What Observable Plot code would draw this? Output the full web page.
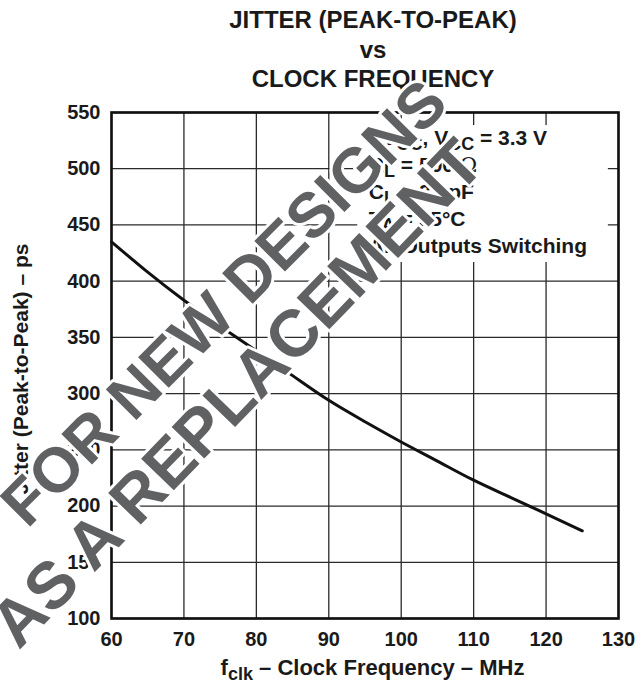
<!DOCTYPE html>
<html><head><meta charset="utf-8">
<script src="https://cdn.jsdelivr.net/npm/d3@7"></script>
<script src="https://cdn.jsdelivr.net/npm/@observablehq/plot@0.6"></script>
<style>
body{margin:0;background:#fff;font-family:"Liberation Sans",Arial,Helvetica,sans-serif;}
#title{height:100px;width:642px;box-sizing:border-box;padding-left:104px;padding-top:5px;text-align:center;font-weight:bold;font-size:24px;line-height:29.5px;color:#1a1a1a;}
#chart svg{display:block;}
</style></head><body>
<div id="title"><div>JITTER (PEAK-TO-PEAK)</div><div>vs</div><div>CLOCK FREQUENCY</div></div>
<div id="chart"></div>
<script>
// ---- data ----
const freqMHz  = [60, 65, 70, 75, 80, 85, 90, 95, 100, 105, 110, 115, 120, 125];
const jitterPs = [435, 408, 383, 360, 338, 316, 294, 275, 257, 240, 223, 208, 193, 178];
const xTicks = [60, 70, 80, 90, 100, 110, 120, 130];
const yTicks = [100, 150, 200, 250, 300, 350, 400, 450, 500, 550];
const legendLines = [
  [{t:"AV"},{t:"CC",sub:true},{t:", V"},{t:"CC",sub:true},{t:" = 3.3 V"}],
  [{t:"R"},{t:"L",sub:true},{t:" = 500 "},{t:"Ω",light:true}],
  [{t:"C"},{t:"L",sub:true},{t:" = 20 pF"}],
  [{t:"T"},{t:"A",sub:true},{t:" = 25°C"}],
  [{t:"All Outputs Switching"}]
];
const xLabel = [{t:"f"},{t:"clk",sub:true},{t:" – Clock Frequency – MHz"}];
const yLabel = "Jitter (Peak-to-Peak) – ps";
const watermark = ["FOR NEW DESIGNS", "AS A REPLACEMENT"];

// ---- layout ----
const wmPos = [{x:75.6, y:380.1, size:63, rot:-45}, {x:77.4, y:299.7, size:66, rot:-46}];
const legendBox = {x1:94.0, x2:128.6, y1:416.6, y2:538.4};
const legendAt = {x:95.6, y:520.7, step:27};

const data = freqMHz.map((f,i)=>({f, j: jitterPs[i]}));
const wm = watermark.map((t,i)=>({t, ...wmPos[i]}));

const plot = Plot.plot({
  width: 642, height: 583,
  marginTop: 12, marginRight: 24, marginBottom: 65, marginLeft: 111,
  style: {fontFamily: '"Liberation Sans", Arial, sans-serif', fontSize: "20px", fontWeight: "bold", color: "#1a1a1a", background: "#fff", overflow: "visible"},
  x: {domain: [60, 130]},
  y: {domain: [100, 550]},
  marks: [
    Plot.ruleX(xTicks, {stroke: "#2a2a2a", strokeWidth: 1.3}),
    Plot.ruleY(yTicks, {stroke: "#2a2a2a", strokeWidth: 1.3}),
    Plot.rect([legendBox], {x1:"x1", x2:"x2", y1:"y1", y2:"y2", fill:"#fff"}),
    Plot.frame({stroke: "#111", strokeWidth: 2.6}),
    Plot.line(data, {x:"f", y:"j", curve:"natural", stroke:"#111", strokeWidth: 3}),
    Plot.axisX(xTicks, {tickSize: 0, tickPadding: 13, label: null, fontSize: 20}),
    Plot.axisY(yTicks, {tickSize: 0, tickPadding: 11, label: null, fontSize: 20}),
    Plot.text(wm, {x:"x", y:"y", text:"t", rotate:"rot", fontSize:"size", fontWeight:"bold",
      fill:"#606163", stroke:"#fff", strokeWidth:6, paintOrder:"stroke", strokeLinejoin:"round", textAnchor:"middle"})
  ]
});
document.getElementById("chart").appendChild(plot);

const svg = d3.select(plot);
const lin = s => v => s.range[0] + (v - s.domain[0])/(s.domain[1]-s.domain[0])*(s.range[1]-s.range[0]);
const X = lin(plot.scale("x")), Y = lin(plot.scale("y"));

function addSegs(textSel, segs, subSize, shift){
  let down = false;
  segs.forEach(s => {
    const ts = textSel.append("tspan").text(s.t);
    if (s.sub) { ts.attr("font-size", subSize); if (!down) { ts.attr("dy", shift); down = true; } }
    else if (down) { ts.attr("dy", -shift); down = false; }
    if (s.light) ts.attr("font-weight", "normal").attr("font-family", '"DejaVu Serif", "Liberation Serif", serif');
  });
}

const lg = svg.append("g").attr("font-size", 21).attr("font-weight", "bold").attr("fill", "#1a1a1a").attr("text-anchor", "start");
legendLines.forEach((segs, i) => {
  const t = lg.append("text").attr("text-anchor", "start").attr("x", X(legendAt.x)).attr("y", Y(legendAt.y) + i*legendAt.step);
  addSegs(t, segs, 18, 5);
});

const xt = svg.append("text").attr("x", (X(60)+X(130))/2 + 8).attr("y", 575)
  .attr("text-anchor", "middle").attr("font-size", 22).attr("font-weight", "bold").attr("fill", "#1a1a1a");
addSegs(xt, xLabel, 18, 5);

svg.append("text").attr("transform", `translate(28,${(Y(100)+Y(550))/2 + 4}) rotate(-90)`)
  .attr("text-anchor", "middle").attr("font-size", 21).attr("font-weight", "bold").attr("fill", "#1a1a1a")
  .text(yLabel);

svg.selectAll('g[aria-label="text"]').raise();
</script>
</body></html>
